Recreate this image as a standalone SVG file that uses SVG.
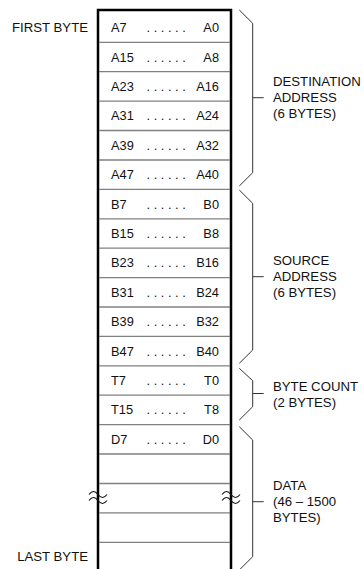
<svg xmlns="http://www.w3.org/2000/svg" width="364" height="569" viewBox="0 0 364 569">
<style>
text{font-family:"Liberation Sans",Arial,sans-serif;font-size:12.8px;fill:#111}
.lbl{font-size:13.2px}
.r{text-anchor:end}
.dots{letter-spacing:3.6px}
.row{stroke:#808080;stroke-width:1.3;fill:none}
.frame{stroke:#000;stroke-width:2.5;fill:none}
.brace{stroke:#333;stroke-width:1;fill:none}
.wave{stroke:#111;stroke-width:1.1;fill:none}
</style>
<rect width="364" height="569" fill="#fff"/>
<g id="frame">
<path class="frame" d="M98,569 V10 H231 V569"/>
</g>
<g id="rows">
<line class="row" x1="99" x2="230" y1="42.3" y2="42.3"/>
<line class="row" x1="99" x2="230" y1="71.7" y2="71.7"/>
<line class="row" x1="99" x2="230" y1="101.1" y2="101.1"/>
<line class="row" x1="99" x2="230" y1="130.5" y2="130.5"/>
<line class="row" x1="99" x2="230" y1="160" y2="160"/>
<line class="row" x1="99" x2="230" y1="189.4" y2="189.4"/>
<line class="row" x1="99" x2="230" y1="218.8" y2="218.8"/>
<line class="row" x1="99" x2="230" y1="248.2" y2="248.2"/>
<line class="row" x1="99" x2="230" y1="277.6" y2="277.6"/>
<line class="row" x1="99" x2="230" y1="307" y2="307"/>
<line class="row" x1="99" x2="230" y1="336.4" y2="336.4"/>
<line class="row" x1="99" x2="230" y1="365.8" y2="365.8"/>
<line class="row" x1="99" x2="230" y1="395.2" y2="395.2"/>
<line class="row" x1="99" x2="230" y1="424.6" y2="424.6"/>
<line class="row" x1="99" x2="230" y1="454" y2="454"/>
<line class="row" x1="99" x2="230" y1="483.5" y2="483.5"/>
<line class="row" x1="99" x2="230" y1="512.9" y2="512.9"/>
<line class="row" x1="99" x2="230" y1="542.3" y2="542.3"/>
</g>
<g id="cells">
<text x="111" y="31.7">A7</text><text class="dots" x="146.5" y="31.7">......</text><text class="r" x="219" y="31.7">A0</text>
<text x="111" y="61.5">A15</text><text class="dots" x="146.5" y="61.5">......</text><text class="r" x="219" y="61.5">A8</text>
<text x="111" y="90.9">A23</text><text class="dots" x="146.5" y="90.9">......</text><text class="r" x="219" y="90.9">A16</text>
<text x="111" y="120.3">A31</text><text class="dots" x="146.5" y="120.3">......</text><text class="r" x="219" y="120.3">A24</text>
<text x="111" y="149.7">A39</text><text class="dots" x="146.5" y="149.7">......</text><text class="r" x="219" y="149.7">A32</text>
<text x="111" y="179.2">A47</text><text class="dots" x="146.5" y="179.2">......</text><text class="r" x="219" y="179.2">A40</text>
<text x="111" y="208.6">B7</text><text class="dots" x="146.5" y="208.6">......</text><text class="r" x="219" y="208.6">B0</text>
<text x="111" y="238">B15</text><text class="dots" x="146.5" y="238">......</text><text class="r" x="219" y="238">B8</text>
<text x="111" y="267.4">B23</text><text class="dots" x="146.5" y="267.4">......</text><text class="r" x="219" y="267.4">B16</text>
<text x="111" y="296.8">B31</text><text class="dots" x="146.5" y="296.8">......</text><text class="r" x="219" y="296.8">B24</text>
<text x="111" y="326.2">B39</text><text class="dots" x="146.5" y="326.2">......</text><text class="r" x="219" y="326.2">B32</text>
<text x="111" y="355.6">B47</text><text class="dots" x="146.5" y="355.6">......</text><text class="r" x="219" y="355.6">B40</text>
<text x="111" y="385">T7</text><text class="dots" x="146.5" y="385">......</text><text class="r" x="219" y="385">T0</text>
<text x="111" y="414.4">T15</text><text class="dots" x="146.5" y="414.4">......</text><text class="r" x="219" y="414.4">T8</text>
<text x="111" y="443.8">D7</text><text class="dots" x="146.5" y="443.8">......</text><text class="r" x="219" y="443.8">D0</text>
</g>
<g id="side-labels">
<text class="r lbl" x="88" y="31.7">FIRST BYTE</text>
<text class="r lbl" x="88" y="560.5">LAST BYTE</text>
</g>
<g id="breaks">
<path class="wave" d="M89,494.5 C92,490.5 95,490.5 98,494.5 S104,498.5 107,494.5"/>
<path class="wave" d="M89,500.5 C92,496.5 95,496.5 98,500.5 S104,504.5 107,500.5"/>
<path class="wave" d="M222,494.5 C225,490.5 228,490.5 231,494.5 S237,498.5 240,494.5"/>
<path class="wave" d="M222,500.5 C225,496.5 228,496.5 231,500.5 S237,504.5 240,500.5"/>
</g>
<g id="connectors">
<path class="brace" d="M239.3,10 L252.7,23.3 V172.7 L239.3,186 M252.7,97.7 H263.7"/>
<path class="brace" d="M239.3,190 L252.7,203.3 V350 L239.3,363.3 M252.7,276.7 H263.7"/>
<path class="brace" d="M239.3,368.3 L252.7,380.7 V406.7 L239.3,420 M252.7,393.5 H263.7"/>
<path class="brace" d="M239.3,426.7 L252.7,440 V556.7 L239.3,570 M252.7,501.7 H263.7"/>
</g>
<g id="dest-label">
<text class="lbl" x="273" y="86">DESTINATION</text>
<text class="lbl" x="273" y="102">ADDRESS</text>
<text class="lbl" x="273" y="118">(6 BYTES)</text>
</g>
<g id="source-label">
<text class="lbl" x="273" y="265">SOURCE</text>
<text class="lbl" x="273" y="281">ADDRESS</text>
<text class="lbl" x="273" y="297">(6 BYTES)</text>
</g>
<g id="count-label">
<text class="lbl" x="273" y="390.5">BYTE COUNT</text>
<text class="lbl" x="273" y="406.5">(2 BYTES)</text>
</g>
<g id="data-label">
<text class="lbl" x="273" y="490">DATA</text>
<text class="lbl" x="273" y="506">(46 – 1500</text>
<text class="lbl" x="273" y="522">BYTES)</text>
</g>
</svg>
